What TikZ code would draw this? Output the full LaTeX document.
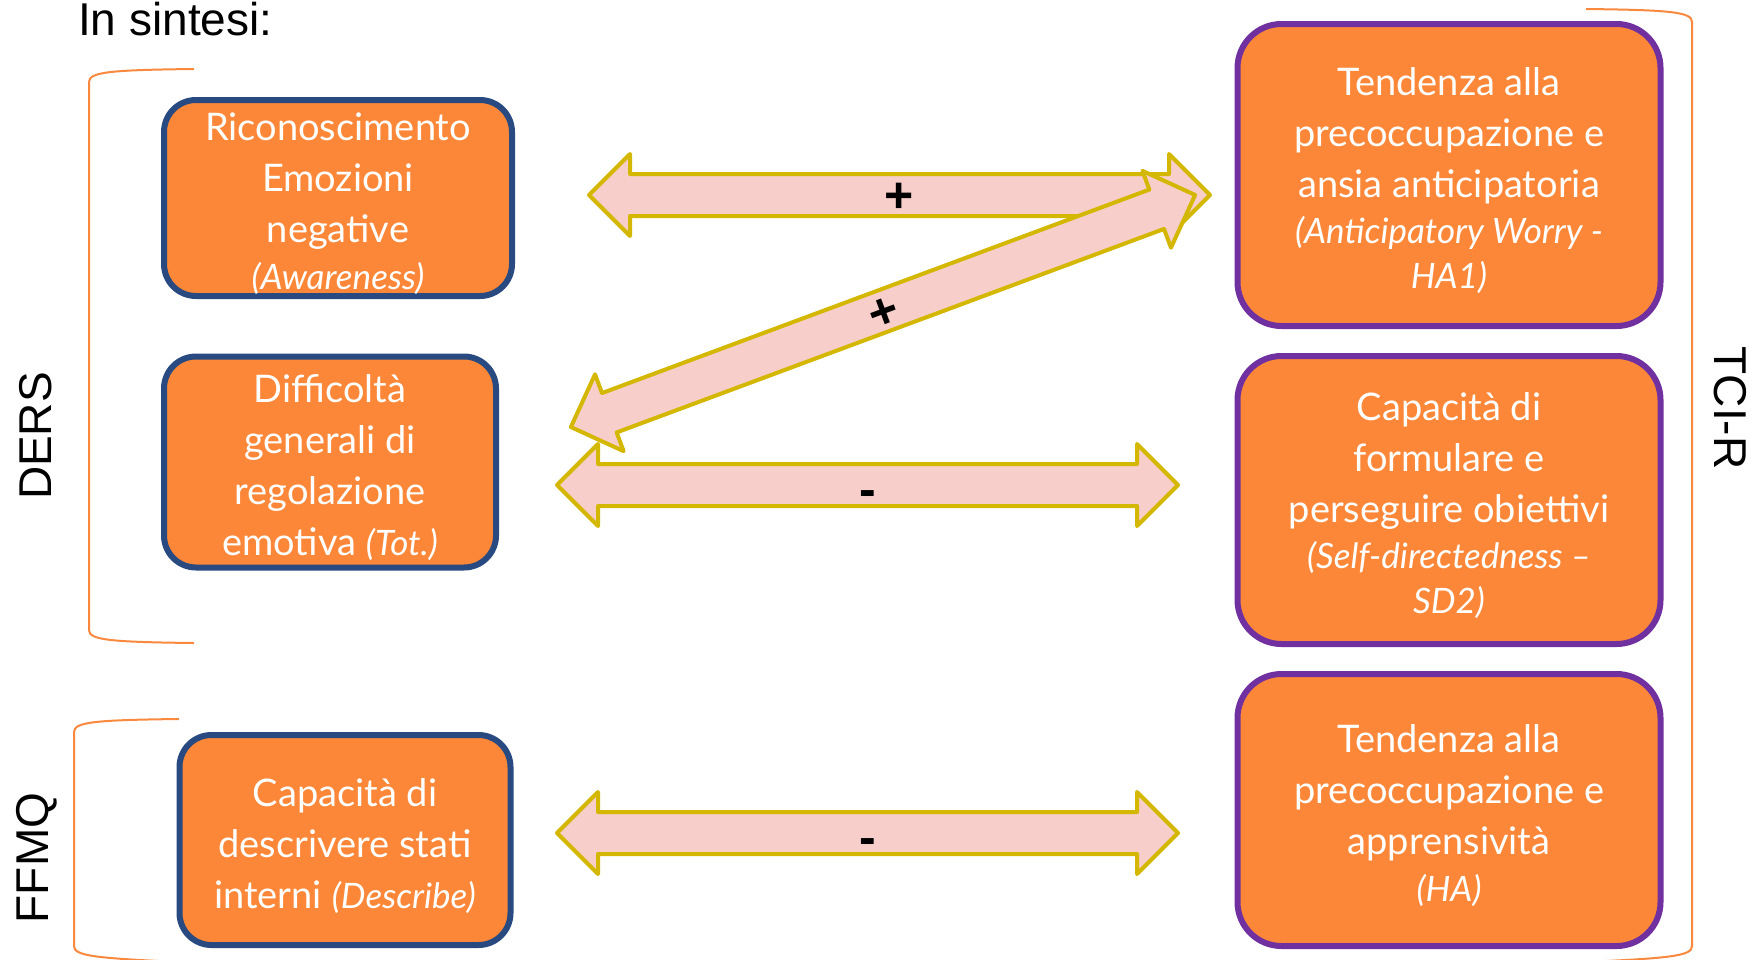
\documentclass[tikz,border=0pt]{standalone}
\usepackage{fontspec}
\setmainfont{Lato}
\newfontfamily\arialfont{Liberation Sans}
\usetikzlibrary{positioning,shapes.arrows}
\definecolor{boxorange}{HTML}{FD8738}
\definecolor{dersblue}{HTML}{284A80}
\definecolor{tcipurple}{HTML}{7030A0}
\definecolor{arrowpink}{HTML}{F7CEC9}
\definecolor{arrowgold}{HTML}{D4B700}
\definecolor{bracketorange}{HTML}{F8893F}
\newcommand{\ital}[1]{{\itshape\fontsize{35}{51}\selectfont #1}}
\newcommand{\topgap}{\rule{0pt}{40pt}}
\begin{document}
\begin{tikzpicture}[x=1pt,y=-1pt,
  box/.style={rectangle,fill=boxorange,line width=6pt,text=white,align=center,
    font=\fontsize{38}{51}\selectfont,inner sep=0pt},
  leftbox/.style={box,draw=dersblue,rounded corners=32pt},
  rightbox/.style={box,draw=tcipurple,rounded corners=44pt,minimum width=423pt},
  dblarrow/.style={double arrow,draw=arrowgold,fill=arrowpink,line width=4pt,
    line join=round,double arrow head extend=20pt,minimum width=78pt,
    inner xsep=0pt,inner ysep=2pt,text height=34pt,text depth=0pt,
    font=\arialfont\bfseries\fontsize{50}{50}\selectfont,sloped},
  scalename/.style={font=\arialfont\fontsize{46}{46}\selectfont,inner sep=0pt},
  bracket/.style={draw=bracketorange,line width=2pt}]
\useasboundingbox (0,0) rectangle (1760,959);
\clip (0,0) rectangle (1760,959);
\node[scalename,anchor=base west] (title) at (78,35) {In sintesi:};
\node[scalename,rotate=90] (DERS) at (36,436) {DERS};
\node[scalename,rotate=90] (FFMQ) at (37,858) {FFMQ};
\node[scalename,rotate=-90] (TCIR) at (1730,408) {TCI-R};
\draw[bracket] (194,69) .. controls (110,70) and (89,72) .. (89,82) -- (89,630) .. controls (89,640) and (110,642) .. (194,643);
\draw[bracket] (179,719) .. controls (95,720) and (74,722) .. (74,732) -- (74,946) .. controls (74,956) and (95,958) .. (179,962);
\draw[bracket] (1586,9) .. controls (1671,10) and (1692,12) .. (1692,22) -- (1692,946) .. controls (1692,956) and (1671,958) .. (1586,962);
\node[leftbox,minimum width=348pt,minimum height=196pt] (AW) at (338,198) {\topgap Riconoscimento\\ Emozioni\\ negative\\[-4pt] \ital{(Awareness)}};
\node[leftbox,minimum width=332pt,minimum height=211pt] (TOT) at (330,462) {\topgap Difficoltà\\ generali di\\ regolazione\\ emotiva \ital{(Tot.)}};
\node[leftbox,minimum width=331pt,minimum height=210pt] (DES) at (345,840) {\topgap Capacità di\\ descrivere stati\\ interni \ital{(Describe)}};
\node[rightbox,minimum height=302pt] (HA1) at (1449,175) {\topgap Tendenza alla\\ precoccupazione e\\ ansia anticipatoria\\[-5pt] \ital{(Anticipatory Worry -}\\[-6pt] \ital{HA1)}};
\node[rightbox,minimum height=288pt,below=24pt of HA1] (SD2) {\topgap Capacità di\\ formulare e\\ perseguire obiettivi\\[-5pt] \ital{(Self-directedness --}\\[-6pt] \ital{SD2)}};
\node[rightbox,minimum height=272pt,below=24pt of SD2] (HA) {\topgap Tendenza alla\\ precoccupazione e\\ apprensività\\[-4pt] \ital{(HA)}};
\coordinate (a1) at (589,195);
\coordinate (a2) at (1210,195);
\coordinate (d1) at (571,427);
\coordinate (d2) at (1195,195);
\coordinate (m1) at (557,485);
\coordinate (m2) at (1178,485);
\coordinate (n1) at (557,833);
\coordinate (n2) at (1178,833);
\path (a1) -- node[dblarrow,minimum height=621pt] (AWHA1) {+} (a2);
\path (d1) -- node[dblarrow,minimum height=666pt] (TOTHA1) {+} (d2);
\path (m1) -- node[dblarrow,minimum height=621pt] (TOTSD2) {\raisebox{-4pt}{-}} (m2);
\path (n1) -- node[dblarrow,minimum height=621pt] (DESHA) {\raisebox{-4pt}{-}} (n2);
\end{tikzpicture}
\end{document}
